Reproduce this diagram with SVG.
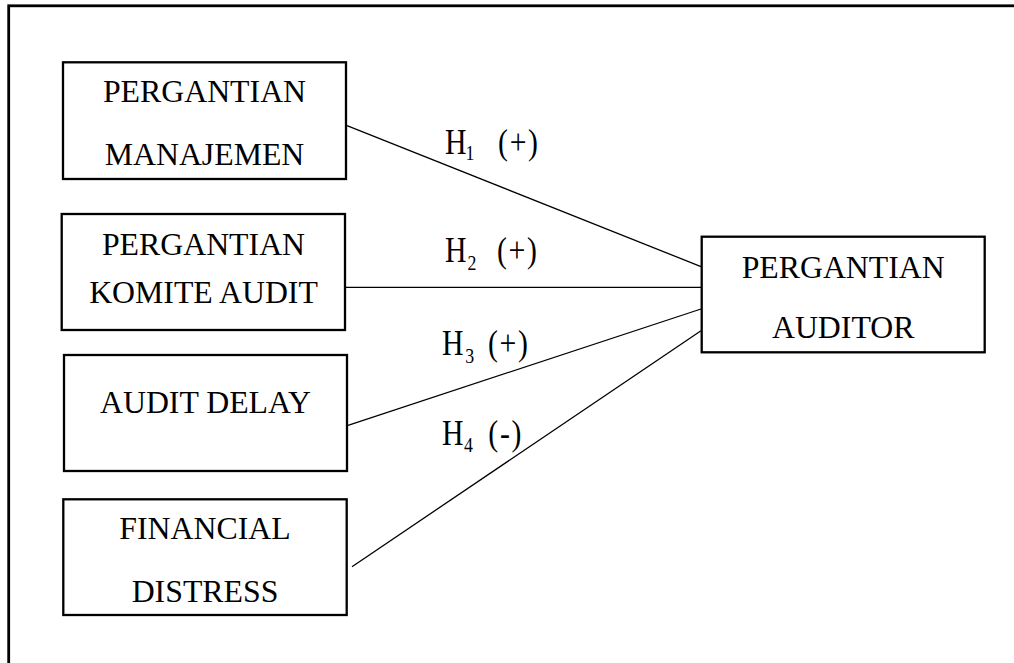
<svg xmlns="http://www.w3.org/2000/svg" width="1014" height="663" viewBox="0 0 1014 663">
<style>
.box{fill:#fff;stroke:#000;stroke-width:2.3}
.t{font-family:'Liberation Serif','Times New Roman','DejaVu Serif',serif;font-size:31.8px;fill:#000;text-anchor:middle}
.h{font-family:'Liberation Serif','Times New Roman','DejaVu Serif',serif;font-size:35px;fill:#000}
.s{font-size:21px}
.p{letter-spacing:2px}
.c line{stroke:#000;stroke-width:1.3}
</style>
<rect width="1014" height="663" fill="#fff"/>
<rect x="8.7" y="5.8" width="1100" height="700" fill="none" stroke="#000" stroke-width="2.8"/>
<g class="c" id="connectors">
<line x1="347" y1="125.6" x2="701" y2="266.6"/>
<line x1="345" y1="287.3" x2="702" y2="287.3"/>
<line x1="348" y1="425.3" x2="701" y2="309"/>
<line x1="352" y1="566.7" x2="701" y2="330.8"/>
</g>
<g id="n1"><rect class="box" x="63" y="62.3" width="283" height="116.7"/>
<text class="t" x="204.5" y="102.3">PERGANTIAN</text><text class="t" x="204.5" y="165">MANAJEMEN</text></g>
<g id="n2"><rect class="box" x="61.7" y="214" width="283.3" height="116"/>
<text class="t" x="203.5" y="255">PERGANTIAN</text><text class="t" x="203.5" y="303.3">KOMITE AUDIT</text></g>
<g id="n3"><rect class="box" x="64" y="355" width="283" height="116"/>
<text class="t" x="205.5" y="413.3">AUDIT DELAY</text></g>
<g id="n4"><rect class="box" x="63.3" y="499.3" width="283.4" height="115.7"/>
<text class="t" x="205" y="539.3">FINANCIAL</text><text class="t" x="205" y="601.7">DISTRESS</text></g>
<g id="n5"><rect class="box" x="701.7" y="236.7" width="283" height="115.6"/>
<text class="t" x="843.2" y="278.3">PERGANTIAN</text><text class="t" x="843.2" y="337.7">AUDITOR</text></g>
<g id="labels">
<text class="h" transform="translate(445,154.3) scale(0.85,1)"><tspan x="0">H</tspan><tspan class="s" x="24.2" dy="5.7">1</tspan><tspan class="p" x="62.4" dy="-5.7">(+)</tspan></text>
<text class="h" transform="translate(445,262.3) scale(0.85,1)"><tspan x="0">H</tspan><tspan class="s" x="26.5" dy="7.7">2</tspan><tspan class="p" x="61.2" dy="-7.7">(+)</tspan></text>
<text class="h" transform="translate(442,355) scale(0.85,1)"><tspan x="0">H</tspan><tspan class="s" x="27.5" dy="8">3</tspan><tspan class="p" x="54.1" dy="-8">(+)</tspan></text>
<text class="h" transform="translate(442,445) scale(0.85,1)"><tspan x="0">H</tspan><tspan class="s" x="25.9" dy="6.7">4</tspan><tspan class="p" x="54.5" dy="-6.7">(-)</tspan></text>
</g>
</svg>
